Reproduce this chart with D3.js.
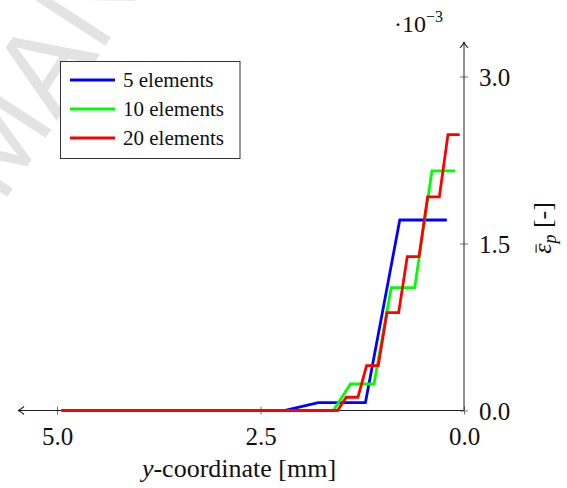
<!DOCTYPE html>
<html>
<head>
<meta charset="utf-8">
<script src="https://cdn.jsdelivr.net/npm/d3@7"></script>
<style>
  html, body { margin: 0; padding: 0; background: #fff; }
  svg { display: block; }
</style>
</head>
<body>
<svg id="chart" width="567" height="488"></svg>
<script>
// Equivalent plastic strain along the y-coordinate, values at integration points
// (strain in units of 1e-3, coordinate in mm).
const xFive   = [4.789, 2.211, 1.789, 1.211, 0.789, 0.211];
const yFive   = [0, 0, 0.070, 0.070, 1.711, 1.711];

const xTen    = [4.894, 1.606, 1.394, 1.106, 0.894, 0.606, 0.394, 0.106];
const yTen    = [0, 0, 0.238, 0.238, 1.103, 1.103, 2.152, 2.152];

const xTwenty = [4.947, 1.553, 1.447, 1.303, 1.197, 1.053, 0.947, 0.803, 0.697, 0.553, 0.447, 0.303, 0.197, 0.053];
const yTwenty = [0, 0, 0.119, 0.119, 0.403, 0.403, 0.879, 0.879, 1.382, 1.382, 1.918, 1.918, 2.478, 2.478];

const seriesNames  = ["5 elements", "10 elements", "20 elements"];
const seriesColors = ["#0000ff", "#00ff00", "#ff0000"];
const xTicks = [5.0, 2.5, 0.0];
const yTicks = [0.0, 1.5, 3.0];

const series = [
  { name: seriesNames[0], color: seriesColors[0], xs: xFive,   ys: yFive },
  { name: seriesNames[1], color: seriesColors[1], xs: xTen,    ys: yTen },
  { name: seriesNames[2], color: seriesColors[2], xs: xTwenty, ys: yTwenty }
];

const SERIF = "'Liberation Serif'";
const svg = d3.select("#chart");

// faint diagonal watermark, placed so that "MA" crosses the upper-left corner
const wm = svg.append("text")
  .style("font-family", "'Liberation Sans'")
  .attr("font-size", 120)
  .attr("fill", "#e3e3e3")
  .text("ACCEPTED MANUSCRIPT");
const mPos = wm.node().getStartPositionOfChar(9);
wm.attr("transform", `translate(2,205) rotate(-57) translate(${-mPos.x},0)`);

const x = d3.scaleLinear().domain([5, 0]).range([57, 464]);
const y = d3.scaleLinear().domain([0, 3]).range([410.5, 76.5]);

const axisColor = "#222";
const tickColor = "#777";

// x axis
const gx = svg.append("g").attr("transform", `translate(0,${y(0)})`)
  .call(d3.axisBottom(x).tickValues(xTicks).tickFormat(d3.format(".1f")).tickSize(4));
gx.select(".domain").remove();
gx.selectAll(".tick line").attr("y1", -4).attr("y2", 4).attr("stroke", tickColor);
gx.selectAll(".tick text")
  .attr("y", 34).attr("dy", 0)
  .style("font-family", SERIF).attr("font-size", 25).attr("fill", "#111");

// y axis (right side)
const gy = svg.append("g").attr("transform", `translate(${x(0)},0)`)
  .call(d3.axisRight(y).tickValues(yTicks).tickFormat(d3.format(".1f")).tickSize(4));
gy.select(".domain").remove();
gy.selectAll(".tick line").attr("x1", -4).attr("x2", 4).attr("stroke", tickColor);
gy.selectAll(".tick text")
  .attr("x", 15).attr("dy", "0.34em")
  .style("font-family", SERIF).attr("font-size", 25).attr("fill", "#111");

// axis lines with arrow heads
const x0 = x(0), y0 = y(0);
const xEnd = 18, yEnd = 42;
svg.append("line").attr("x1", x0).attr("y1", y0).attr("x2", xEnd).attr("y2", y0)
  .attr("stroke", axisColor).attr("stroke-width", 1);
svg.append("line").attr("x1", x0).attr("y1", y0).attr("x2", x0).attr("y2", yEnd)
  .attr("stroke", axisColor).attr("stroke-width", 1);
svg.append("path")
  .attr("d", `M${xEnd + 6},${y0 - 4} Q${xEnd + 2},${y0 - 0.5} ${xEnd},${y0} Q${xEnd + 2},${y0 + 0.5} ${xEnd + 6},${y0 + 4}`)
  .attr("fill", "none").attr("stroke", axisColor).attr("stroke-width", 1.1);
svg.append("path")
  .attr("d", `M${x0 - 4},${yEnd + 6} Q${x0 - 0.5},${yEnd + 2} ${x0},${yEnd} Q${x0 + 0.5},${yEnd + 2} ${x0 + 4},${yEnd + 6}`)
  .attr("fill", "none").attr("stroke", axisColor).attr("stroke-width", 1.1);

// data lines
const line = d3.line().x(d => x(d[0])).y(d => y(d[1]));
series.forEach(s => {
  const pts = s.xs.map((v, i) => [v, s.ys[i]]);
  svg.append("path")
    .attr("d", line(pts))
    .attr("fill", "none")
    .attr("stroke", s.color)
    .attr("stroke-width", 2.8)
    .attr("stroke-linejoin", "miter");
});

// scale factor above the y axis
const sf = svg.append("text").attr("x", 394).attr("y", 32)
  .style("font-family", SERIF).attr("font-size", 24).attr("fill", "#111");
sf.append("tspan").text("\u00B710");
sf.append("tspan").attr("dy", -10).attr("font-size", 16).text("\u22123");

// x axis label
const xl = svg.append("text").attr("x", 239).attr("y", 477)
  .attr("text-anchor", "middle")
  .style("font-family", SERIF).attr("font-size", 26).attr("fill", "#111");
xl.append("tspan").attr("font-style", "italic").text("y");
xl.append("tspan").text("-coordinate [mm]");

// y axis label (rotated)
const yg = svg.append("g").attr("transform", "translate(551,228) rotate(-90)");
const yl = yg.append("text").attr("x", 0).attr("y", 0)
  .attr("text-anchor", "middle")
  .style("font-family", SERIF).attr("font-size", 26).attr("fill", "#111");
yl.append("tspan").attr("font-style", "italic").text("\u03B5");
yl.append("tspan").attr("font-style", "italic").attr("font-size", 18).attr("dy", 5).text("p");
yl.append("tspan").attr("dy", -5).text(" [-]");
const eps = yl.node().getExtentOfChar(0);
yg.append("line")
  .attr("x1", eps.x + 1).attr("x2", eps.x + eps.width - 1)
  .attr("y1", eps.y + eps.height * 0.28).attr("y2", eps.y + eps.height * 0.28)
  .attr("stroke", "#111").attr("stroke-width", 1.1);

// legend
const lg = svg.append("g");
lg.append("rect").attr("x", 60.5).attr("y", 61.5).attr("width", 179.5).attr("height", 97)
  .attr("fill", "#fff").attr("stroke", "#333").attr("stroke-width", 1);
series.forEach((s, i) => {
  const ly = 80 + i * 29;
  lg.append("line").attr("x1", 70).attr("x2", 115).attr("y1", ly).attr("y2", ly)
    .attr("stroke", s.color).attr("stroke-width", 2.8);
  lg.append("text").attr("x", 123).attr("y", ly).attr("dy", "0.33em")
    .style("font-family", SERIF).attr("font-size", 21).attr("fill", "#111")
    .text(s.name);
});
</script>
</body>
</html>
